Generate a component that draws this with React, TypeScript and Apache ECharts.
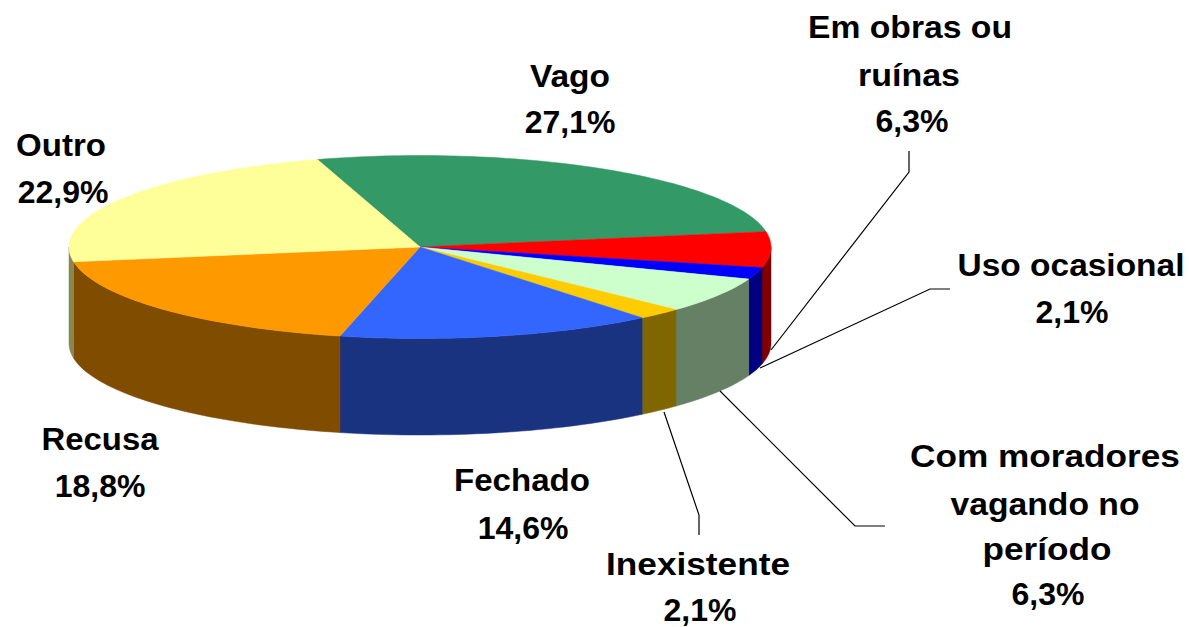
import React, { useEffect, useRef } from "react";
import * as echarts from "echarts";

const categories = ["Vago", "Em obras ou ruínas", "Uso ocasional", "Com moradores vagando no período", "Inexistente", "Fechado", "Recusa", "Outro"];
const sliceValues = [27.1, 6.3, 2.1, 6.3, 2.1, 14.6, 18.8, 22.9];
const topColors = ["#339966", "#ff0000", "#0000ff", "#ccffcc", "#ffcc00", "#3366ff", "#ff9900", "#ffff99"];
const wallColors = ["#1a4d33", "#800000", "#000080", "#668066", "#806600", "#1a3380", "#804d00", "#87874f"];

// label lines: text, centre x, centre y, target width (undefined = natural)
const labelLines: [string, number, number, number?][] = [
  ["Em obras ou", 910, 27, 204],
  ["ruínas", 909, 75, 102],
  ["6,3%", 912, 121],
  ["Vago", 570, 76, 80],
  ["27,1%", 570, 122],
  ["Outro", 61, 145, 90],
  ["22,9%", 63, 192],
  ["Uso ocasional", 1071, 265, 227],
  ["2,1%", 1072, 312],
  ["Com moradores", 1045, 456, 270],
  ["vagando no", 1045, 504, 189],
  ["período", 1047, 549, 129],
  ["6,3%", 1048, 594],
  ["Inexistente", 698, 564, 184],
  ["2,1%", 700, 610],
  ["Fechado", 522, 480, 136],
  ["14,6%", 523, 528],
  ["Recusa", 100, 439, 117],
  ["18,8%", 100, 486],
];

const leaderLines: number[][][] = [
  [[909, 151], [909, 172], [771, 350]],
  [[950, 289], [930, 289], [760, 368]],
  [[885, 526], [855, 526], [720, 391]],
  [[699, 535], [699, 515], [664, 412]],
];

const CX = 420, CY = 247, RX = 351, RY = 91.5, DEPTH = 96.5, START_DEG = -17;
const FONT = 'bold 32px "Liberation Sans", Arial, sans-serif';

const total = sliceValues.reduce((a, b) => a + b, 0);
const starts: number[] = [];
sliceValues.reduce((acc, v, i) => {
  starts[i] = acc;
  return acc + (v / total) * 360;
}, START_DEG);

// clockwise from top
const pt = (deg: number, dy = 0): number[] => {
  const r = (deg * Math.PI) / 180;
  return [CX + RX * Math.sin(r), CY - RY * Math.cos(r) + dy];
};

const arcPts = (a: number, b: number, dy = 0): number[][] => {
  const n = Math.max(2, Math.ceil(Math.abs(b - a) / 1.5));
  const out: number[][] = [];
  for (let i = 0; i <= n; i++) out.push(pt(a + ((b - a) * i) / n, dy));
  return out;
};

const measure = (text: string): number => {
  const ctx = document.createElement("canvas").getContext("2d")!;
  ctx.font = FONT;
  return ctx.measureText(text).width;
};

export default function App() {
  const ref = useRef<HTMLDivElement>(null);
  useEffect(() => {
    const chart = echarts.init(ref.current!, null, { renderer: "svg" });
    chart.setOption({
      animation: false,
      backgroundColor: "#ffffff",
      series: [
        {
          type: "custom",
          name: "walls",
          coordinateSystem: "none",
          silent: true,
          z: 1,
          data: sliceValues.map((v, i) => ({ name: categories[i], value: v })),
          renderItem: (params: any, api: any) => {
            const i = params.dataIndex;
            const a = starts[i];
            const b = a + (api.value(0) / total) * 360;
            const from = Math.max(a, 90);
            const to = Math.min(b, 270);
            if (to <= from) return { type: "group", children: [] };
            const top = arcPts(from, to);
            const bottom = arcPts(to, from, DEPTH);
            return {
              type: "polygon",
              shape: { points: top.concat(bottom) },
              style: { fill: wallColors[i], stroke: wallColors[i], lineWidth: 0.5 },
            };
          },
        },
        {
          type: "custom",
          name: "tops",
          coordinateSystem: "none",
          silent: true,
          z: 2,
          data: sliceValues.map((v, i) => ({ name: categories[i], value: v })),
          renderItem: (params: any, api: any) => {
            const i = params.dataIndex;
            const a = starts[i];
            const b = a + (api.value(0) / total) * 360;
            return {
              type: "polygon",
              shape: { points: [[CX, CY]].concat(arcPts(a, b)) },
              style: { fill: topColors[i], stroke: topColors[i], lineWidth: 0.5 },
            };
          },
        },
      ],
      graphic: [
        ...leaderLines.map((points) => ({
          type: "polyline",
          z: 5,
          silent: true,
          shape: { points },
          style: { stroke: "#000000", lineWidth: 1.2, fill: "none" },
        })),
        ...labelLines.map(([text, x, y, w]) => ({
          type: "text",
          z: 6,
          silent: true,
          x,
          y,
          scaleX: w ? w / measure(text) : 1,
          style: { text, x: 0, y: 0, font: FONT, fill: "#000000", textAlign: "center", textVerticalAlign: "middle" },
        })),
      ],
    });
    return () => chart.dispose();
  }, []);
  return <div ref={ref} style={{ position: "absolute", left: 0, top: 0, width: 1189, height: 627 }} />;
}
